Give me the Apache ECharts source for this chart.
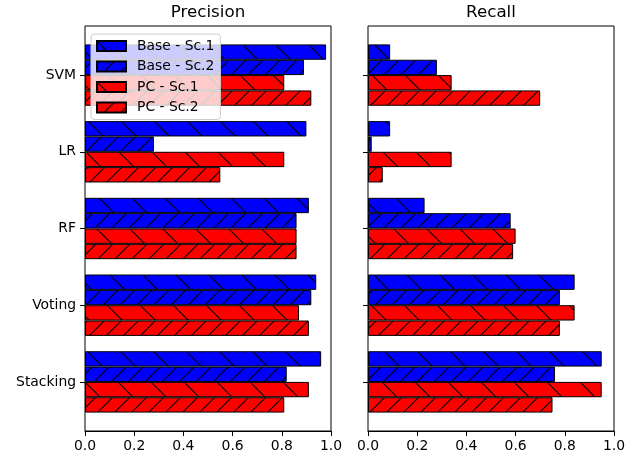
<!DOCTYPE html>
<html>
<head>
<meta charset="utf-8">
<script src="https://cdn.jsdelivr.net/npm/echarts@6/dist/echarts.min.js"></script>
<style>html,body{margin:0;padding:0;background:#fff}#chart{width:638px;height:455px}</style>
</head>
<body>
<div id="chart"></div>
<script>
const categories = ['SVM', 'LR', 'RF', 'Voting', 'Stacking'];
const seriesNames = ['Base - Sc.1', 'Base - Sc.2', 'PC - Sc.1', 'PC - Sc.2'];
const panelTitles = ['Precision', 'Recall'];
const xTicks = [0, 0.2, 0.4, 0.6, 0.8, 1.0];

const precisionBaseSc1 = [0.98, 0.90, 0.91, 0.94, 0.96];
const precisionBaseSc2 = [0.89, 0.28, 0.86, 0.92, 0.82];
const precisionPcSc1   = [0.81, 0.81, 0.86, 0.87, 0.91];
const precisionPcSc2   = [0.92, 0.55, 0.86, 0.91, 0.81];

const recallBaseSc1 = [0.09, 0.09, 0.23, 0.84, 0.95];
const recallBaseSc2 = [0.28, 0.015, 0.58, 0.78, 0.76];
const recallPcSc1   = [0.34, 0.34, 0.60, 0.84, 0.95];
const recallPcSc2   = [0.70, 0.06, 0.59, 0.78, 0.75];

function makePattern(fill, dir, period) {
  const c = document.createElement('canvas');
  c.width = period; c.height = period;
  const ctx = c.getContext('2d');
  ctx.fillStyle = fill;
  ctx.fillRect(0, 0, period, period);
  ctx.strokeStyle = '#000';
  ctx.lineWidth = 1.1;
  for (let k = -1; k <= 1; k++) {
    ctx.beginPath();
    if (dir === '/') {
      ctx.moveTo(k * period, period);
      ctx.lineTo(k * period + period, 0);
    } else {
      ctx.moveTo(k * period, 0);
      ctx.lineTo(k * period + period, period);
    }
    ctx.stroke();
  }
  return { image: c, repeat: 'repeat' };
}

const fills = [
  makePattern('#0000ff', '\\', 33),
  makePattern('#0000ff', '/', 17),
  makePattern('#ff0000', '\\', 33),
  makePattern('#ff0000', '/', 17)
];

const panelData = [
  [precisionBaseSc1, precisionBaseSc2, precisionPcSc1, precisionPcSc2],
  [recallBaseSc1, recallBaseSc2, recallPcSc1, recallPcSc2]
];

const FONT = 'DejaVu Sans';
const lefts = [85, 368];
const W = 246;
const frameTop = 26, frameH = 405;
const unit = frameH / 5.28;
const barTop = frameTop + 0.14 * unit;
const barH = unit * 5;

const grids = [], xAxes = [], yAxes = [], series = [], titles = [];
lefts.forEach((L, p) => {
  grids.push({ left: L, top: frameTop, width: W, height: frameH, show: true, borderColor: '#000', borderWidth: 1, backgroundColor: 'transparent' });
  grids.push({ left: L, top: barTop, width: W, height: barH });
  const fg = p * 2, bg = p * 2 + 1;
  xAxes.push({
    gridIndex: fg, type: 'value', min: 0, max: 1, interval: 0.2,
    axisLine: { show: true, lineStyle: { color: '#000', width: 1 } },
    axisTick: { show: true, length: 5, lineStyle: { color: '#000' } },
    axisLabel: { color: '#000', fontFamily: FONT, fontSize: 13.9, margin: 8, formatter: v => v.toFixed(1) },
    splitLine: { show: false }
  });
  xAxes.push({ gridIndex: bg, type: 'value', min: 0, max: 1, show: false });
  yAxes.push({ gridIndex: fg, type: 'value', min: 0, max: 1, show: false });
  yAxes.push({
    gridIndex: bg, type: 'category', inverse: true, data: categories,
    axisLine: { show: false },
    axisTick: { show: true, alignWithLabel: true, length: 5, lineStyle: { color: '#000' } },
    axisLabel: { show: p === 0, color: '#000', fontFamily: FONT, fontSize: 13.9, margin: 9 }
  });
  titles.push({
    text: panelTitles[p], left: L + W / 2, top: 4, textAlign: 'center', padding: 0,
    textStyle: { color: '#000', fontFamily: FONT, fontSize: 16.7, fontWeight: 'normal' }
  });
  seriesNames.forEach((name, s) => {
    series.push({
      type: 'bar', name: name, xAxisIndex: p * 2 + 1, yAxisIndex: p * 2 + 1,
      data: panelData[p][s], barGap: '0%', barCategoryGap: '20%',
      itemStyle: { color: fills[s], borderColor: '#000', borderWidth: 1 },
      emphasis: { disabled: true }, animation: false
    });
  });
});

const chart = echarts.init(document.getElementById('chart'), null, { renderer: 'canvas' });
chart.setOption({
  animation: false,
  title: titles,
  grid: grids,
  xAxis: xAxes,
  yAxis: yAxes,
  legend: {
    data: seriesNames, orient: 'vertical', left: 91, top: 34,
    itemWidth: 29, itemHeight: 10, itemGap: 6.5,
    backgroundColor: 'rgba(255,255,255,0.8)', borderColor: '#cccccc', borderWidth: 1, borderRadius: 3,
    padding: [5, 6, 5, 5],
    icon: 'rect',
    textStyle: { color: '#000', fontFamily: FONT, fontSize: 13.9, padding: [0, 0, 0, 6] },
    z: 10
  },
  series: series
});
</script>
</body>
</html>
